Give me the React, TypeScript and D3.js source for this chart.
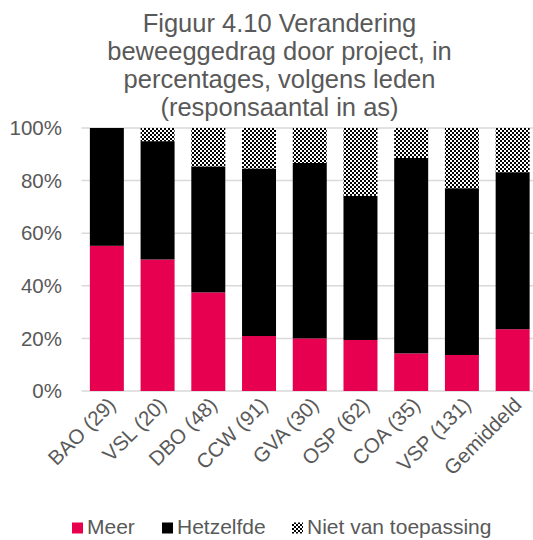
import React from "react";
import * as d3 from "d3";

const categories = ["BAO (29)", "VSL (20)", "DBO (48)", "CCW (91)", "GVA (30)", "OSP (62)", "COA (35)", "VSP (131)", "Gemiddeld"];
const meer = [55.2, 50.0, 37.5, 20.9, 20.0, 19.4, 14.3, 13.7, 23.5];
const hetzelfde = [44.8, 45.0, 47.9, 63.7, 66.7, 54.8, 74.3, 63.4, 59.7];
const nvt = [0.0, 5.0, 14.6, 15.4, 13.3, 25.8, 11.4, 22.9, 16.8];
const seriesNames = ["Meer", "Hetzelfde", "Niet van toepassing"];
const yTicks = [0, 20, 40, 60, 80, 100];
const titleLines = ["Figuur 4.10 Verandering", "beweeggedrag door project, in", "percentages, volgens leden", "(responsaantal in as)"];

const W = 533;
const H = 540;
const font = "'Liberation Sans', Arial, sans-serif";
const textColor = "#595959";
const fills = ["#E6004F", "#000000", "url(#checker)"];

export default function App() {
  const x = d3.scaleBand().domain(categories).range([81.5, 538]).paddingInner(0.33).paddingOuter(0.165);
  const y = d3.scaleLinear().domain([0, 100]).range([391, 128]);

  const rows = categories.map((c, i) => ({ cat: c, Meer: meer[i], Hetzelfde: hetzelfde[i], "Niet van toepassing": nvt[i] }));
  const stacked = d3.stack<any>().keys(seriesNames)(rows);

  // legend x positions
  const legend = [
    { name: "Meer", x: 72 },
    { name: "Hetzelfde", x: 162 },
    { name: "Niet van toepassing", x: 292 },
  ];

  return (
    <svg width={W} height={H} style={{ position: "absolute", left: 0, top: 0 }}>
      <defs>
        <pattern id="checker" width={4} height={4} patternUnits="userSpaceOnUse">
          <rect width={4} height={4} fill="#fff" />
          <rect width={2} height={2} fill="#000" />
          <rect x={2} y={2} width={2} height={2} fill="#000" />
        </pattern>
      </defs>
      <rect width={W} height={H} fill="#fff" />
      <g fontFamily={font} fill={textColor} fontSize={25.5} textAnchor="middle">
        {titleLines.map((t, i) => (
          <text key={i} x={279.5} y={32 + i * 28}>{t}</text>
        ))}
      </g>
      {yTicks.map((t) => (
        <g key={t}>
          <line x1={81.5} x2={W} y1={y(t)} y2={y(t)} stroke="#d9d9d9" strokeWidth={1.5} />
          <text x={62} y={y(t)} dy="0.35em" textAnchor="end" fontFamily={font} fontSize={20.5} fill={textColor}>{t}%</text>
        </g>
      ))}
      {stacked.map((s, si) => (
        <g key={s.key} fill={fills[si]}>
          {s.map((d, i) => (
            <rect key={i} x={x(categories[i])} width={x.bandwidth()} y={y(d[1])} height={Math.max(0, y(d[0]) - y(d[1]))} />
          ))}
        </g>
      ))}
      {categories.map((c) => {
        const cx = (x(c) as number) + x.bandwidth() / 2;
        return (
          <text key={c} transform={`translate(${cx + 5},${401}) rotate(-45)`} textAnchor="end" dy="0.35em" fontFamily={font} fontSize={20.5} fill={textColor}>{c}</text>
        );
      })}
      {legend.map((l, i) => (
        <g key={l.name}>
          <rect x={l.x} y={522.5} width={11} height={11} fill={fills[i]} />
          <text x={l.x + 15} y={534} fontFamily={font} fontSize={21} fill={textColor}>{l.name}</text>
        </g>
      ))}
    </svg>
  );
}
